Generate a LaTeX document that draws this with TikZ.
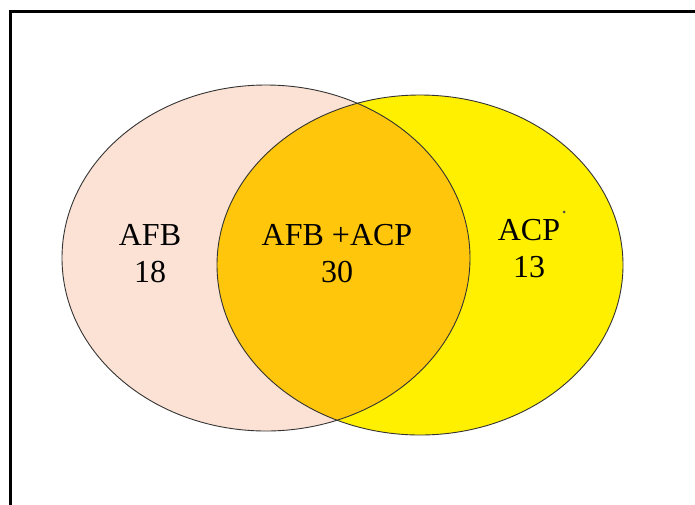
\documentclass[tikz,border=0pt]{standalone}
\usepackage{fontspec}
\setmainfont{Liberation Serif}
\definecolor{afbpeach}{RGB}{252,226,212}
\definecolor{acpyellow}{RGB}{255,240,0}
\definecolor{bothorange}{RGB}{255,198,12}

\begin{document}
\begin{tikzpicture}[x=1pt, y=-1pt,
  setline/.style={draw=black!80, line width=0.9pt},
  lbl/.style={align=center, inner sep=0pt, font=\fontsize{32}{37}\selectfont}]
\useasboundingbox (0,0) rectangle (695,504);
\coordinate (afbc) at (266,258);
\coordinate (acpc) at (420,265);

\fill[afbpeach] (afbc) ellipse [x radius=204, y radius=173];
\fill[acpyellow] (acpc) ellipse [x radius=203, y radius=170];
\begin{scope}
\clip (afbc) ellipse [x radius=204, y radius=173];
\fill[bothorange] (acpc) ellipse [x radius=203, y radius=170];
\end{scope}
\draw[setline] (afbc) ellipse [x radius=204, y radius=173];
\draw[setline] (acpc) ellipse [x radius=203, y radius=170];
\fill[black!70] (564,212) circle [radius=1.5];

\draw[line width=2.7pt] (700,11.7) -- (10.5,11.7) -- (10.5,510);

\node[lbl] (afb) at (150,254) {AFB\\18};
\node[lbl] (both) at (337,254) {AFB +ACP\\30};
\node[lbl] (acp) at (529,249) {ACP\\13};
\end{tikzpicture}
\end{document}
